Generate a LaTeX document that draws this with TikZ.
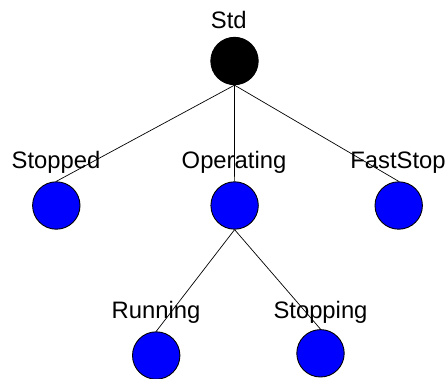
\documentclass[tikz,border=0pt]{standalone}
\usepackage{fontspec}
\setmainfont{Liberation Sans}
\begin{document}
\begin{tikzpicture}[x=1pt,y=-1pt,
  state/.style={circle,draw=black,line width=0.9pt,fill=pureblue,minimum size=47.4pt,inner sep=0pt},
  rootstate/.style={state,fill=black},
  caption/.style={anchor=base,inner sep=0pt,font=\fontsize{23.8}{28}\selectfont},
  edge/.style={draw=black,line width=0.7pt}]
\definecolor{pureblue}{RGB}{0,0,255}
\useasboundingbox (0,0) rectangle (446,378);
% states
\node[rootstate] (std) at (234.5,61) {};
\node[state] (stopped) at (56.3,205.5) {};
\node[state] (operating) at (234.6,205.5) {};
\node[state] (faststop) at (398.7,205.5) {};
\node[state] (running) at (156.2,355.5) {};
\node[state] (stopping) at (320.5,353.3) {};
% tree edges
\draw[edge] (std.south) -- (stopped.north);
\draw[edge] (std.south) -- (operating.north);
\draw[edge] (std.south) -- (faststop.north);
\draw[edge] (operating.south) -- (running.north);
\draw[edge] (operating.south) -- (stopping.north);
% names
\node[caption] (lstd) at (228.8,28.3) {Std};
\node[caption] (lstopped) at (56,168.3) {Stopped};
\node[caption] (loperating) at (234,168.3) {Operating};
\node[caption] (lfaststop) at (398,168.3) {FastStop};
\node[caption] (lrunning) at (156,318.3) {Running};
\node[caption] (lstopping) at (320.5,318.3) {Stopping};
\end{tikzpicture}
\end{document}
